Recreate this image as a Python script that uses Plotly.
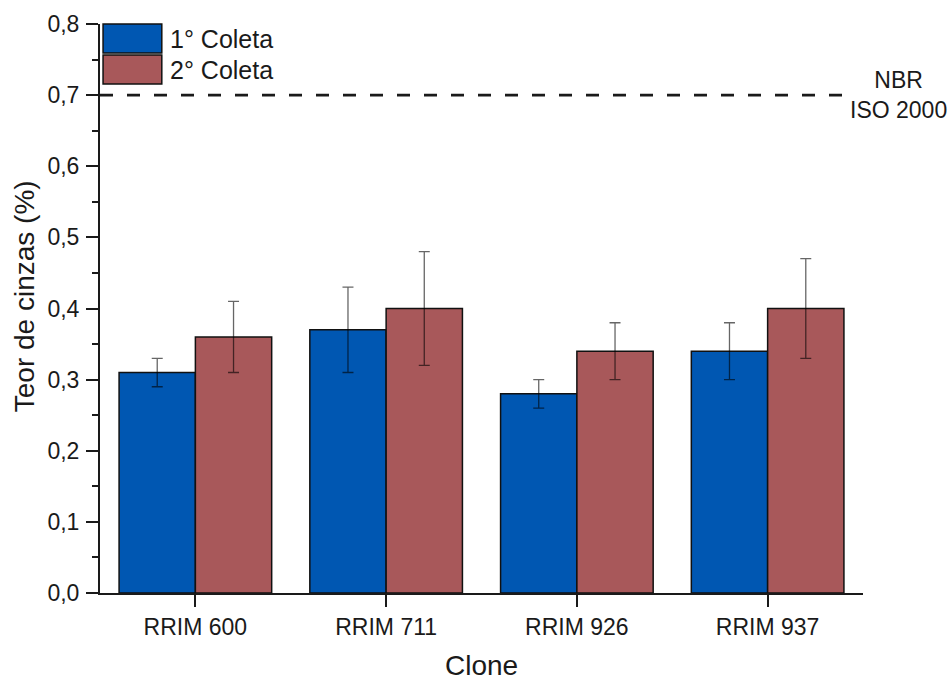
import plotly.graph_objects as go

clones = ["RRIM 600", "RRIM 711", "RRIM 926", "RRIM 937"]
coleta1 = [0.31, 0.37, 0.28, 0.34]
coleta1_err = [0.02, 0.06, 0.02, 0.04]
coleta2 = [0.36, 0.40, 0.34, 0.40]
coleta2_err = [0.05, 0.08, 0.04, 0.07]
series_names = ["1° Coleta", "2° Coleta"]
limit_value = 0.7
limit_label = "NBR<br>ISO 2000"
y_title = "Teor de cinzas (%)"
x_title = "Clone"

blue = "#0057B2"
red = "#A8585A"
ink = "#1a1a1a"
font_family = "Liberation Sans, Arial, sans-serif"

fig = go.Figure()
for name, vals, errs, col in [
    (series_names[0], coleta1, coleta1_err, blue),
    (series_names[1], coleta2, coleta2_err, red),
]:
    fig.add_trace(go.Bar(
        x=clones, y=vals, name=name,
        marker=dict(color=col, line=dict(color="#111111", width=1.5)),
        error_y=dict(type="data", array=errs, visible=True,
                     color="rgba(0,0,0,0.6)", thickness=1.3, width=5.5),
        showlegend=False,
    ))

# reference limit line
fig.add_shape(type="line", xref="x domain", yref="y",
              x0=0, x1=0.973, y0=limit_value, y1=limit_value,
              line=dict(color=ink, width=2.8, dash="13px,14px"))
fig.add_annotation(xref="paper", yref="y", x=1.046, y=limit_value,
                   text=limit_label, showarrow=False,
                   font=dict(size=23, color=ink, family=font_family),
                   xanchor="center", yanchor="middle", align="center")

# legend drawn as large swatches at the top-left of the plot
for i, (name, col) in enumerate(zip(series_names, [blue, red])):
    y_top = 1.0 - i * 0.0545
    fig.add_shape(type="rect", xref="paper", yref="paper",
                  x0=0.004, x1=0.081, y0=y_top - 0.051, y1=y_top,
                  fillcolor=col, line=dict(color="#111111", width=1.5))
    fig.add_annotation(xref="paper", yref="paper", x=0.089, y=y_top - 0.0255,
                       text=name, showarrow=False, xanchor="left", yanchor="middle",
                       font=dict(size=25, color=ink, family=font_family))

# axis titles
fig.add_annotation(xref="paper", yref="paper", x=-0.098, y=0.522,
                   text=y_title, textangle=-90, showarrow=False,
                   xanchor="center", yanchor="middle",
                   font=dict(size=28, color=ink, family=font_family))
fig.add_annotation(xref="paper", yref="paper", x=0.5, y=-0.128,
                   text=x_title, showarrow=False,
                   xanchor="center", yanchor="middle",
                   font=dict(size=28, color=ink, family=font_family))

fig.update_layout(
    width=952, height=682,
    margin=dict(l=100, r=89, t=24, b=89),
    paper_bgcolor="white", plot_bgcolor="white",
    barmode="group", bargap=0.2, bargroupgap=0,
    separators=",.",
    font=dict(family=font_family, color=ink, size=22),
    xaxis=dict(
        automargin=False,
        showline=True, linecolor=ink, linewidth=2,
        ticks="outside", ticklen=12, tickwidth=2, tickcolor=ink,
        showgrid=False, range=[-0.5, 3.5],
        tickfont=dict(size=23),
    ),
    yaxis=dict(
        automargin=False,
        range=[0, 0.8], dtick=0.1, tickformat=".1f",
        showline=True, linecolor=ink, linewidth=2,
        ticks="outside", ticklen=12, tickwidth=2, tickcolor=ink,
        ticklabelstandoff=2,
        minor=dict(ticks="outside", ticklen=6, tickwidth=2, dtick=0.05,
                   tickcolor=ink, showgrid=False),
        showgrid=False, zeroline=False,
        tickfont=dict(size=23),
    ),
)

fig.write_html("out.html")
